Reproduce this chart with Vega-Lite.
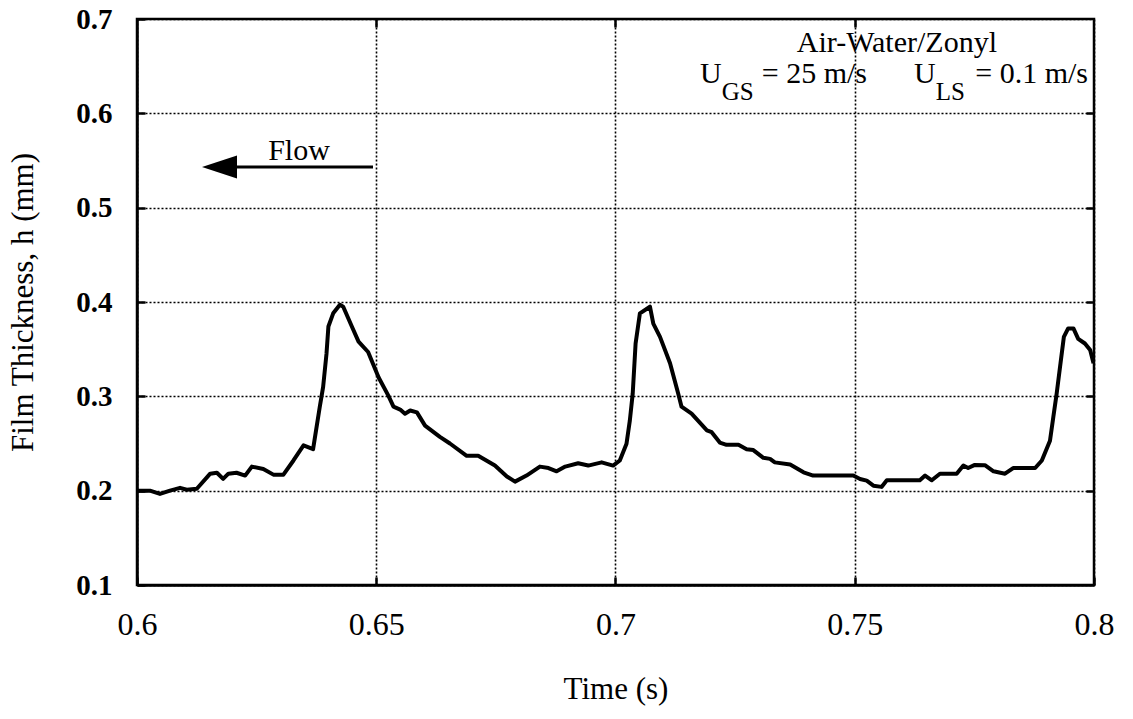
{
  "$schema": "https://vega.github.io/schema/vega-lite/v6.json",
  "autosize": {"type": "none"},
  "width": 957,
  "height": 566,
  "padding": {"left": 137, "top": 19, "right": 39, "bottom": 134},
  "background": "white",
  "config": {
    "font": "Liberation Serif",
    "view": {"stroke": "black", "strokeWidth": 2.5},
    "axis": {
      "domainColor": "black", "domainWidth": 2.5,
      "tickColor": "black", "tickWidth": 2.5, "tickSize": -8,
      "gridColor": "black", "gridDash": [2, 2], "gridWidth": 1.6, "gridOpacity": 1,
      "labelColor": "black", "titleColor": "black",
      "labelFont": "Liberation Serif", "titleFont": "Liberation Serif",
      "titleFontWeight": "normal"
    }
  },
  "datasets": {
    "film": [
      {"t": 0.6000, "h": 0.200}, {"t": 0.6027, "h": 0.200}, {"t": 0.6048, "h": 0.1965},
      {"t": 0.6069, "h": 0.200}, {"t": 0.6090, "h": 0.203}, {"t": 0.6104, "h": 0.201},
      {"t": 0.6125, "h": 0.202}, {"t": 0.6153, "h": 0.218}, {"t": 0.6167, "h": 0.219},
      {"t": 0.6180, "h": 0.2125}, {"t": 0.6191, "h": 0.218}, {"t": 0.6208, "h": 0.219},
      {"t": 0.6226, "h": 0.216}, {"t": 0.6240, "h": 0.2255}, {"t": 0.6264, "h": 0.223},
      {"t": 0.6285, "h": 0.217}, {"t": 0.6306, "h": 0.217}, {"t": 0.6327, "h": 0.232},
      {"t": 0.6348, "h": 0.248}, {"t": 0.6368, "h": 0.244}, {"t": 0.6382, "h": 0.289},
      {"t": 0.6389, "h": 0.310}, {"t": 0.6396, "h": 0.345}, {"t": 0.6400, "h": 0.374},
      {"t": 0.6410, "h": 0.388}, {"t": 0.6424, "h": 0.397}, {"t": 0.6431, "h": 0.395},
      {"t": 0.6449, "h": 0.374}, {"t": 0.6463, "h": 0.358}, {"t": 0.6483, "h": 0.347},
      {"t": 0.6505, "h": 0.320}, {"t": 0.6525, "h": 0.301}, {"t": 0.6536, "h": 0.289},
      {"t": 0.6550, "h": 0.286}, {"t": 0.6560, "h": 0.2816}, {"t": 0.6571, "h": 0.285},
      {"t": 0.6585, "h": 0.283}, {"t": 0.6602, "h": 0.269}, {"t": 0.6633, "h": 0.257},
      {"t": 0.6654, "h": 0.250}, {"t": 0.6689, "h": 0.237}, {"t": 0.6713, "h": 0.237},
      {"t": 0.6748, "h": 0.2266}, {"t": 0.6773, "h": 0.215}, {"t": 0.6790, "h": 0.2096},
      {"t": 0.6814, "h": 0.216}, {"t": 0.6842, "h": 0.2255}, {"t": 0.6860, "h": 0.224},
      {"t": 0.6877, "h": 0.2205}, {"t": 0.6895, "h": 0.2255}, {"t": 0.6922, "h": 0.229},
      {"t": 0.6943, "h": 0.2266}, {"t": 0.6971, "h": 0.230}, {"t": 0.6995, "h": 0.2266},
      {"t": 0.7009, "h": 0.232}, {"t": 0.7023, "h": 0.2497}, {"t": 0.7030, "h": 0.2745},
      {"t": 0.7036, "h": 0.303}, {"t": 0.7042, "h": 0.356}, {"t": 0.7051, "h": 0.388},
      {"t": 0.7072, "h": 0.395}, {"t": 0.7079, "h": 0.377}, {"t": 0.7093, "h": 0.363},
      {"t": 0.7114, "h": 0.335}, {"t": 0.7131, "h": 0.303}, {"t": 0.7138, "h": 0.289},
      {"t": 0.7159, "h": 0.2816}, {"t": 0.7191, "h": 0.264}, {"t": 0.7201, "h": 0.262},
      {"t": 0.7218, "h": 0.251}, {"t": 0.7232, "h": 0.2486}, {"t": 0.7257, "h": 0.2486},
      {"t": 0.7274, "h": 0.244}, {"t": 0.7288, "h": 0.243}, {"t": 0.7309, "h": 0.2348},
      {"t": 0.7323, "h": 0.2337}, {"t": 0.7333, "h": 0.230}, {"t": 0.7365, "h": 0.2277},
      {"t": 0.7393, "h": 0.2195}, {"t": 0.7413, "h": 0.216}, {"t": 0.7497, "h": 0.216},
      {"t": 0.7511, "h": 0.2124}, {"t": 0.7525, "h": 0.2106}, {"t": 0.7539, "h": 0.2053},
      {"t": 0.7556, "h": 0.204}, {"t": 0.7567, "h": 0.211}, {"t": 0.7636, "h": 0.211},
      {"t": 0.7647, "h": 0.216}, {"t": 0.7661, "h": 0.211}, {"t": 0.7678, "h": 0.218},
      {"t": 0.7713, "h": 0.218}, {"t": 0.7727, "h": 0.2266}, {"t": 0.7737, "h": 0.224},
      {"t": 0.7751, "h": 0.2273}, {"t": 0.7772, "h": 0.227}, {"t": 0.7790, "h": 0.2205},
      {"t": 0.7814, "h": 0.218}, {"t": 0.7831, "h": 0.224}, {"t": 0.7877, "h": 0.224},
      {"t": 0.7891, "h": 0.232}, {"t": 0.7908, "h": 0.253}, {"t": 0.7915, "h": 0.278},
      {"t": 0.7922, "h": 0.303}, {"t": 0.7929, "h": 0.331}, {"t": 0.7937, "h": 0.363},
      {"t": 0.7946, "h": 0.372}, {"t": 0.7957, "h": 0.372}, {"t": 0.7967, "h": 0.361},
      {"t": 0.7981, "h": 0.356}, {"t": 0.7992, "h": 0.349}, {"t": 0.7999, "h": 0.335}
    ],
    "leftText": [
      {"t": 0.71766, "h": 0.63215, "text": "U"},
      {"t": 0.76238, "h": 0.63215, "text": "U"}
    ],
    "rightText": [
      {"t": 0.77973, "h": 0.6650, "text": "Air-Water/Zonyl"},
      {"t": 0.75256, "h": 0.63215, "text": "= 25 m/s"},
      {"t": 0.79875, "h": 0.63215, "text": "= 0.1 m/s"}
    ],
    "subText": [
      {"t": 0.72219, "h": 0.61413, "text": "GS"},
      {"t": 0.76692, "h": 0.61413, "text": "LS"}
    ],
    "flowText": [
      {"t": 0.63386, "h": 0.55053, "text": "Flow"}
    ],
    "arrowShaft": [
      {"t1": 0.62090, "t2": 0.64932, "h": 0.54311}
    ],
    "arrowHead": [
      {"t": 0.61724, "h": 0.54311}
    ]
  },
  "layer": [
    {
      "layer": [
        {
          "data": {"name": "film"},
          "mark": {"type": "line", "color": "black", "strokeWidth": 4, "clip": true, "strokeJoin": "round"},
          "encoding": {
            "x": {
              "field": "t", "type": "quantitative",
              "scale": {"domain": [0.6, 0.8], "nice": false, "zero": false},
              "axis": {
                "orient": "bottom",
                "values": [0.6, 0.65, 0.7, 0.75, 0.8],
                "format": ".2~f",
                "labelFontSize": 32,
                "labelPadding": 32,
                "labelFlush": false,
                "title": "Time (s)",
                "titleFontSize": 31,
                "titlePadding": 34
              }
            },
            "y": {
              "field": "h", "type": "quantitative",
              "scale": {"domain": [0.1, 0.7], "nice": false, "zero": false},
              "axis": {
                "orient": "left",
                "values": [0.1, 0.2, 0.3, 0.4, 0.5, 0.6, 0.7],
                "format": ".1f",
                "labelFontSize": 29,
                "labelFontWeight": "bold",
                "labelPadding": 33,
                "labelFlush": false,
                "title": "Film Thickness, h (mm)",
                "titleFontSize": 31,
                "titlePadding": 36
              }
            }
          }
        },
        {
          "data": {"name": "arrowShaft"},
          "mark": {"type": "rule", "color": "black", "strokeWidth": 3},
          "encoding": {
            "x": {"field": "t1", "type": "quantitative"},
            "x2": {"field": "t2"},
            "y": {"field": "h", "type": "quantitative"}
          }
        },
        {
          "data": {"name": "arrowHead"},
          "mark": {"type": "point", "shape": "M1,-0.66L-1,0L1,0.66Z", "size": 1225, "filled": true, "color": "black", "opacity": 1, "strokeWidth": 0},
          "encoding": {
            "x": {"field": "t", "type": "quantitative"},
            "y": {"field": "h", "type": "quantitative"}
          }
        },
        {
          "data": {"name": "leftText"},
          "mark": {"type": "text", "fontSize": 30, "align": "left", "baseline": "alphabetic", "color": "black", "font": "Liberation Serif"},
          "encoding": {
            "x": {"field": "t", "type": "quantitative"},
            "y": {"field": "h", "type": "quantitative"},
            "text": {"field": "text"}
          }
        },
        {
          "data": {"name": "rightText"},
          "mark": {"type": "text", "fontSize": 30, "align": "right", "baseline": "alphabetic", "color": "black", "font": "Liberation Serif"},
          "encoding": {
            "x": {"field": "t", "type": "quantitative"},
            "y": {"field": "h", "type": "quantitative"},
            "text": {"field": "text"}
          }
        },
        {
          "data": {"name": "subText"},
          "mark": {"type": "text", "fontSize": 25, "align": "left", "baseline": "alphabetic", "color": "black", "font": "Liberation Serif"},
          "encoding": {
            "x": {"field": "t", "type": "quantitative"},
            "y": {"field": "h", "type": "quantitative"},
            "text": {"field": "text"}
          }
        },
        {
          "data": {"name": "flowText"},
          "mark": {"type": "text", "fontSize": 30, "align": "center", "baseline": "alphabetic", "color": "black", "font": "Liberation Serif"},
          "encoding": {
            "x": {"field": "t", "type": "quantitative"},
            "y": {"field": "h", "type": "quantitative"},
            "text": {"field": "text"}
          }
        }
      ]
    },
    {
      "data": {"name": "film"},
      "mark": {"type": "line", "opacity": 0},
      "encoding": {
        "x": {
          "field": "t", "type": "quantitative",
          "scale": {"domain": [0.6, 0.8], "nice": false, "zero": false},
          "axis": {"orient": "top", "values": [0.65, 0.7, 0.75], "labels": false, "grid": false, "domain": false, "title": null}
        },
        "y": {
          "field": "h", "type": "quantitative",
          "scale": {"domain": [0.1, 0.7], "nice": false, "zero": false},
          "axis": {"orient": "right", "values": [0.2, 0.3, 0.4, 0.5, 0.6], "labels": false, "grid": false, "domain": false, "title": null}
        }
      }
    }
  ],
  "resolve": {"scale": {"x": "independent", "y": "independent"}, "axis": {"x": "independent", "y": "independent"}}
}
